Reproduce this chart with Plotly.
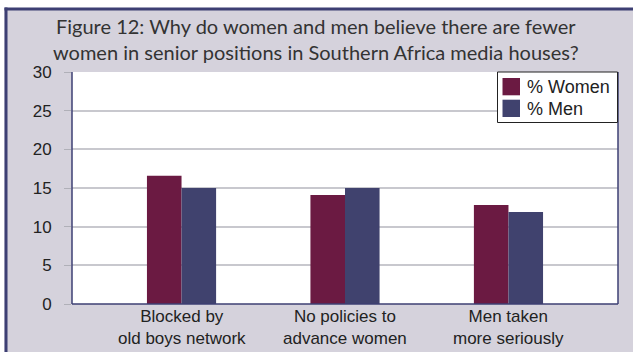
import plotly.graph_objects as go

# Survey responses (percent of respondents)
label_line1 = ["Blocked by", "No policies to", "Men taken"]
label_line2 = ["old boys network", "advance women", "more seriously"]
categories = [f"{a} {b}" for a, b in zip(label_line1, label_line2)]
women_pct = [16.6, 14.1, 12.8]
men_pct = [15.0, 15.0, 11.9]
series_names = ["% Women", "% Men"]
y_ticks = [0, 5, 10, 15, 20, 25, 30]
title_lines = [
    "Figure 12: Why do women and men believe there are fewer",
    "women in senior positions in Southern Africa media houses?",
]

WOMEN_COLOR = "#6b1a42"
MEN_COLOR = "#40426e"
NAVY = "#3d3f73"
PANEL = "#d5d2dc"
TEXT = "#222222"
series_colors = [WOMEN_COLOR, MEN_COLOR]

W, H = 633, 352
L, R, T, B = 72, 15, 72, 48
pw, ph = W - L - R, H - T - B


def px_x(p):
    return (p - L) / pw


def px_y(p):
    return (H - B - p) / ph


fig = go.Figure()
for name, values, color in zip(series_names, [women_pct, men_pct], series_colors):
    fig.add_trace(go.Bar(x=categories, y=values, name=name,
                         marker=dict(color=color, line=dict(width=0))))


def rect(x0, y0, x1, y1, **kw):
    return dict(type="rect", xref="paper", yref="paper",
                x0=px_x(x0), x1=px_x(x1), y0=px_y(y1), y1=px_y(y0), **kw)


shapes = [
    # white strips outside the panel frame
    rect(0, 0, W, 8, fillcolor="white", line=dict(width=0), layer="below"),
    rect(0, 0, 4.5, H, fillcolor="white", line=dict(width=0), layer="below"),
    # navy frame lines (top and left)
    rect(4.5, 7.5, W, 10.5, fillcolor=NAVY, line=dict(width=0), layer="below"),
    rect(4.5, 7.5, 7.5, H, fillcolor=NAVY, line=dict(width=0), layer="below"),
    # plot area outline: left, bottom, right
    dict(type="line", xref="paper", yref="paper", x0=0, x1=0, y0=0, y1=1,
         line=dict(color=NAVY, width=1.5), layer="above"),
    dict(type="line", xref="paper", yref="paper", x0=0, x1=1, y0=0, y1=0,
         line=dict(color=NAVY, width=1.5), layer="above"),
    dict(type="line", xref="paper", yref="paper", x0=1, x1=1, y0=0, y1=1,
         line=dict(color=NAVY, width=1.5), layer="above"),
    # legend box
    rect(497.5, 72, 617.5, 122.5, fillcolor="white",
         line=dict(color="#222222", width=1), layer="above"),
]

annotations = []
# legend swatches and labels
for i, (name, color) in enumerate(zip(series_names, series_colors)):
    top = 78 + i * 21.7
    shapes.append(rect(502.5, top, 520, top + 17.3, fillcolor=color,
                       line=dict(width=0), layer="above"))
    annotations.append(dict(
        text=name, xref="paper", yref="paper", x=px_x(524.5), y=px_y(top + 9),
        xanchor="left", yanchor="middle", showarrow=False,
        font=dict(size=18, color=TEXT),
    ))
# two-line title
annotations.append(dict(
    text="<br>".join(title_lines), xref="paper", yref="paper",
    x=px_x(316), y=px_y(39), xanchor="center", yanchor="middle",
    showarrow=False,
    font=dict(family="Lato, Noto Sans, sans-serif", size=20, color="#333333"),
))
# category labels under each group
for cat, l1, l2 in zip(categories, label_line1, label_line2):
    annotations.append(dict(
        text=f"{l1}<br>{l2}", xref="x", yref="paper", x=cat, y=px_y(327),
        xanchor="center", yanchor="middle", showarrow=False,
        font=dict(size=17, color=TEXT),
    ))

fig.update_layout(
    width=W, height=H,
    margin=dict(l=L, r=R, t=T, b=B, pad=0),
    paper_bgcolor=PANEL,
    plot_bgcolor="white",
    barmode="group",
    bargap=0.577,
    bargroupgap=0,
    font=dict(family="Liberation Sans, Arial, sans-serif", color=TEXT),
    shapes=shapes,
    annotations=annotations,
    showlegend=False,
)

fig.update_xaxes(
    range=[-0.67, 2.67],
    showgrid=False,
    ticks="",
    showticklabels=False,
    showline=False,
)
fig.update_yaxes(
    range=[0, 30],
    tickvals=y_ticks,
    showgrid=True, gridcolor="#c8c8ce", gridwidth=1.5,
    zeroline=False,
    ticks="outside", ticklen=7, tickcolor="#b0b0b8",
    tickfont=dict(size=17, color=TEXT),
    ticklabelstandoff=9,
    showline=False,
)

fig.write_html("out.html")
